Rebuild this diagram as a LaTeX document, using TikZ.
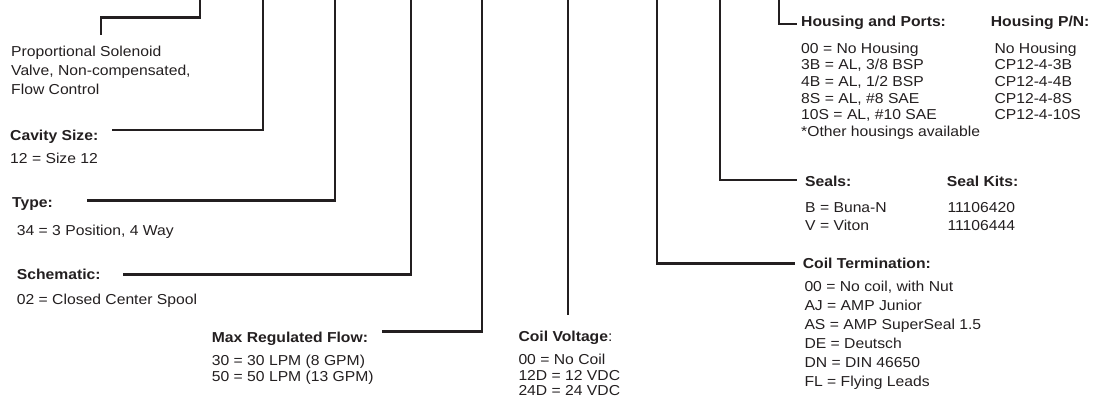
\documentclass[tikz,border=0pt]{standalone}
\usepackage{fontspec}
\setmainfont{Liberation Sans}[FakeStretch=1.09]
\definecolor{ink}{HTML}{231F20}
\begin{document}
\begin{tikzpicture}[x=1pt,y=-1pt,
  txt/.style={anchor=base west,inner sep=0pt,text=ink,font=\fontsize{14.4}{16}\selectfont},
  hd/.style={txt,font=\fontsize{14.4}{16}\selectfont\bfseries},
  ln/.style={draw=ink,line width=2.6pt}]
\useasboundingbox (0,0) rectangle (1094,402);
% ---- texts ----
\node[txt] (p1) at (11,56.7) {Proportional Solenoid};
\node[txt] (p2) at (11,75.3) {Valve, Non-compensated,};
\node[txt] (p3) at (11,94) {Flow Control};
\node[hd] (cav) at (10,140) {Cavity Size:};
\node[txt] (cav1) at (10,163.3) {12 = Size 12};
\node[hd] (typ) at (12,207.3) {Type:};
\node[txt] (typ1) at (16.7,235) {34 = 3 Position, 4 Way};
\node[hd] (sch) at (16.7,279.3) {Schematic:};
\node[txt] (sch1) at (16.7,304) {02 = Closed Center Spool};
\node[hd] (mrf) at (211.7,342) {Max Regulated Flow:};
\node[txt] (mrf1) at (211.7,365.7) {30 = 30 LPM (8 GPM)};
\node[txt] (mrf2) at (211.7,381.5) {50 = 50 LPM (13 GPM)};
\node[hd] (cv) at (518.3,341) {Coil Voltage\mdseries:};
\node[txt] (cv1) at (518.3,364.3) {00 = No Coil};
\node[txt] (cv2) at (518.3,380) {12D = 12 VDC};
\node[txt] (cv3) at (518.3,395.7) {24D = 24 VDC};
\node[hd] (hp) at (801,26.7) {Housing and Ports:};
\node[hd] (hpn) at (990.7,26.7) {Housing P/N:};
\foreach \t [count=\i] in {{00 = No Housing},{3B = AL, 3/8 BSP},{4B = AL, 1/2 BSP},{8S = AL, \#8 SAE},{10S = AL, \#10 SAE},{*Other housings available}}
  \node[txt] (hp\i) at (801,{53.3+16.6*(\i-1)}) {\t};
\foreach \t [count=\i] in {No Housing,CP12-4-3B,CP12-4-4B,CP12-4-8S,CP12-4-10S}
  \node[txt] (hpn\i) at (994.3,{53.3+16.6*(\i-1)}) {\t};
\node[hd] (se) at (805,186) {Seals:};
\node[hd] (sk) at (946.7,186) {Seal Kits:};
\node[txt] (se1) at (805,212.3) {B = Buna-N};
\node[txt] (se2) at (805,230) {V = Viton};
\node[txt] (sk1) at (947.3,212.3) {11106420};
\node[txt] (sk2) at (947.3,230) {11106444};
\node[hd] (ct) at (802.7,268.3) {Coil Termination:};
\foreach \t [count=\i] in {{00 = No coil, with Nut},AJ = AMP Junior,AS = AMP SuperSeal 1.5,DE = Deutsch,DN = DIN 46650,FL = Flying Leads}
  \node[txt] (ct\i) at (804.3,{291.5+19*(\i-1)}) {\t};
% ---- connector end points ----
\coordinate (t1) at (200,0);   \coordinate (k1) at (101,17.3); \coordinate (e1) at (101,35);
\coordinate (t2) at (263,0);   \coordinate (e2) at (112,130);
\coordinate (t3) at (335,0);   \coordinate (e3) at (87,200.7);
\coordinate (t4) at (411,0);   \coordinate (e4) at (123,274.3);
\coordinate (t5) at (482,0);   \coordinate (e5) at (381.5,331.7);
\coordinate (t6) at (568,0);   \coordinate (e6) at (568,315);
\coordinate (t7) at (657,0);   \coordinate (e7) at (795,263.3);
\coordinate (t8) at (720,0);   \coordinate (e8) at (797,180);
\coordinate (t9) at (779,0);   \coordinate (e9) at (797,24);
% ---- connectors ----
\draw[ln] (t1) |- (k1) -- (e1);
\draw[ln] (t2) |- (e2);
\draw[ln] (t3) |- (e3);
\draw[ln] (t4) |- (e4);
\draw[ln] (t5) |- (e5);
\draw[ln] (t6) -- (e6);
\draw[ln] (t7) |- (e7);
\draw[ln] (t8) |- (e8);
\draw[ln] (t9) |- (e9);
\end{tikzpicture}
\end{document}
